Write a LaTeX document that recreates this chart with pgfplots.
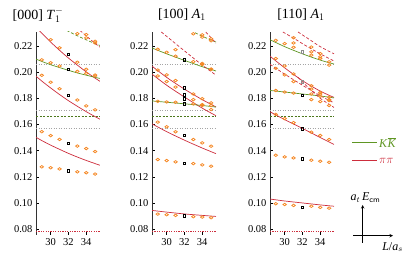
\documentclass[border=0pt]{standalone}
\usepackage{fontspec}
\setmainfont{Liberation Serif}
\usepackage{pgfplots}
\pgfplotsset{compat=1.18}
\definecolor{cred}{RGB}{205,45,60}
\definecolor{cgreen}{RGB}{95,150,35}
\definecolor{corange}{RGB}{245,135,35}
\definecolor{cgray}{RGB}{165,165,165}
\pgfplotsset{
  panel/.style={scale only axis, width=64pt, height=203pt,
    xmin=28.35, xmax=35.55, ymin=0.0755, ymax=0.2307,
    axis x line*=bottom, axis y line*=left,
    x axis line style={draw=none},
    y axis line style={line width=0.9pt, draw=black!80},
    xtick={30,32,34}, ytick={0.08,0.1,0.12,0.14,0.16,0.18,0.2,0.22},
    tick align=inside, major tick length=3pt,
    tick style={black, line width=0.5pt},
    /pgf/number format/assume math mode=true,
    ticklabel style={font=\fontsize{10.5}{12}\selectfont},
    yticklabel style={/pgf/number format/.cd, fixed, fixed zerofill, precision=2, /tikz/.cd},
  },
  curve/.style={no marks, smooth, line width=0.7pt},
  dcurve/.style={no marks, smooth, line width=0.7pt, dash pattern=on 3pt off 2pt},
  hl/.style={no marks, cgray, line width=0.6pt, dash pattern=on 1pt off 1.5pt},
  pts/.style={only marks, mark=o, mark size=1.3pt, mark options={xscale=1.35, line width=0.75pt, draw=corange}},
  blk/.style={only marks, mark=square, mark size=1.25pt, mark options={line width=0.6pt, draw=black}},
  gblk/.style={only marks, mark=square, mark size=1.25pt, mark options={line width=0.6pt, draw=black!45}},
}
\newcommand{\thresholds}{%
  \addplot[hl] coordinates {(28.35,0.157) (35.55,0.157)};
  \addplot[hl] coordinates {(28.35,0.171) (35.55,0.171)};
  \addplot[hl] coordinates {(28.35,0.2057) (35.55,0.2057)};
  \addplot[no marks, cgreen!80!black, line width=0.7pt, dash pattern=on 2pt off 1.5pt] coordinates {(28.35,0.1663) (35.55,0.1663)};
  \addplot[no marks, cred, line width=0.8pt, dash pattern=on 1.2pt off 1.2pt] coordinates {(28.35,0.0786) (35.55,0.0786)};
}
\begin{document}
\begin{tikzpicture}
\useasboundingbox (0,0) rectangle (411pt,256pt);

% ---------------- panel 1 ----------------
\begin{axis}[panel, at={(36pt,21pt)}, anchor=south west]
\thresholds
\addplot[curve, cred] coordinates {(28.35,.1502)(29,.1477)(30,.1442)(31,.1410)(32,.1379)(33,.1351)(34,.1325)(35,.1301)(35.55,.1288)};
\addplot[curve, cred] coordinates {(28.35,.1969)(29,.1932)(30,.1879)(31,.1829)(32,.1782)(33,.1739)(34,.1698)(35,.1660)(35.55,.1640)};
\addplot[curve, cred] coordinates {(28.6,.2326)(29,.2298)(30,.2230)(31,.2167)(32,.2108)(33,.2054)(34,.2002)(35,.1954)(35.55,.1930)};
\addplot[curve, cgreen] coordinates {(28.35,.2100)(29,.2082)(30,.2057)(31,.2035)(32,.2014)(33,.1994)(34,.1977)(35,.1960)(35.55,.1952)};
\addplot[dcurve, cgreen] coordinates {(31.8,.2319)(32,.2312)(33,.2278)(34,.2247)(35,.2218)(35.55,.2204)};
\addplot[dcurve, cred] coordinates {(33.3,.2319)(34,.2277)(35,.2220)(35.55,.2191)};
\addplot[pts] coordinates {(29,.1276)(30,.1269)(31,.1260)(33,.1238)(34,.1231)(35,.1221)};
\addplot[pts] coordinates {(29,.1545)(30,.1515)(31,.1486)(33,.1435)(34,.1416)(35,.1393)};
\addplot[pts] coordinates {(29,.1976)(30,.1923)(31,.1873)(33,.1787)(34,.1742)(35,.1712)};
\addplot[pts] coordinates {(29,.2094)(30,.2072)(31,.2047)(33,.2006)(34,.1991)(35,.1971)};
\addplot[pts] coordinates {(30,.2248)(31,.2186)(33,.2076)(34,.2022)(35,.1978)};
\addplot[pts] coordinates {(33,.2294)(34,.2262)(35,.2223)(34,.2287)(35,.2236)};
\addplot[blk] coordinates {(32,.1245)(32,.1455)(32,.1823)(32,.2021)(32,.2135)};
\end{axis}

% ---------------- panel 2 ----------------
\begin{axis}[panel, at={(152pt,21pt)}, anchor=south west]
\thresholds
\addplot[curve, cred] coordinates {(28.35,.0943)(30,.0930)(32,.0916)(34,.0905)(35.55,.0897)};
\addplot[curve, cred] coordinates {(28.35,.1605)(30,.1545)(32,.1480)(34,.1420)(35.55,.1377)};
\addplot[curve, cred] coordinates {(28.35,.1985)(30,.1900)(32,.1810)(34,.1725)(35.55,.1667)};
\addplot[curve, cred] coordinates {(28.35,.2046)(30,.1960)(32,.1870)(34,.1790)(35.55,.1734)};
\addplot[curve, cgreen] coordinates {(28.35,.1780)(30,.1770)(32,.1758)(34,.1745)(35.55,.1733)};
\addplot[curve, cgreen] coordinates {(28.35,.2185)(30,.2140)(32,.2090)(34,.2042)(35.55,.2009)};
\addplot[dcurve, cred] coordinates {(29.4,.2307)(31,.2218)(33,.2108)(34,.2054)(35.55,.1977)};
\addplot[dcurve, cgreen] coordinates {(33.2,.2301)(34,.2275)(35,.2245)(35.55,.2230)};
\addplot[dcurve, cred] coordinates {(34.4,.2307)(35.55,.2222)};
\addplot[pts] coordinates {(29,.0915)(30,.0910)(31,.0905)(33,.0895)(34,.0892)(35,.0887)};
\addplot[pts] coordinates {(29,.1332)(30,.1324)(31,.1314)(33,.1301)(34,.1291)(35,.1281)};
\addplot[pts] coordinates {(29,.1618)(30,.1582)(31,.1544)(33,.1485)(34,.1459)(35,.1434)};
\addplot[pts] coordinates {(29,.1777)(30,.1772)(31,.1770)(33,.1757)(34,.1752)(35,.1745)};
\addplot[pts] coordinates {(29,.1971)(30,.1928)(31,.1886)(33,.1790)(34,.1745)(35,.1714)};
\addplot[pts] coordinates {(29,.2016)(30,.1979)(31,.1936)(33,.1833)(34,.1797)(35,.1765)};
\addplot[pts] coordinates {(29,.2175)(30,.2152)(31,.2122)(33,.2080)(34,.2067)(35,.2024)};
\addplot[pts] coordinates {(31,.2172)(34,.2058)(35,.2020)};
\addplot[pts] coordinates {(33,.2293)(34,.2268)(35,.2255)(34,.2285)(35,.2240)};
\addplot[blk] coordinates {(32,.0902)(32,.1304)(32,.1516)(32,.1759)(32,.1797)(32,.1825)(32,.1881)(32,.2093)};
\end{axis}

% ---------------- panel 3 ----------------
\begin{axis}[panel, at={(270pt,21pt)}, anchor=south west]
\thresholds
\addplot[curve, cred] coordinates {(28.35,.1030)(30,.1015)(32,.1000)(34,.0985)(35.55,.0975)};
\addplot[curve, cred] coordinates {(28.35,.1697)(30,.1637)(32,.1570)(34,.1500)(35.55,.1447)};
\addplot[curve, cred] coordinates {(28.35,.2122)(30,.2033)(32,.1935)(34,.1855)(35.55,.1807)};
\addplot[curve, cgreen] coordinates {(28.35,.1860)(30,.1848)(32,.1833)(34,.1818)(35.55,.1803)};
\addplot[curve, cgreen] coordinates {(28.35,.2248)(30,.2195)(32,.2140)(34,.2092)(35.55,.2062)};
\addplot[dcurve, cred] coordinates {(29.8,.2307)(31,.2260)(32,.2218)(33,.2178)(34,.2140)(35.55,.2085)};
\addplot[dcurve, cred] coordinates {(31.5,.2307)(33,.2240)(34,.2195)(35.55,.2140)};
\addplot[dcurve, cred] coordinates {(28.35,.2060)(30,.1985)(32,.1900)(34,.1820)(35.55,.1765)};
\addplot[dcurve, cred] coordinates {(31.5,.1960)(33,.1860)(34,.1800)(35.55,.1730)};
\addplot[pts] coordinates {(29,.0994)(30,.0988)(31,.0981)(33,.0975)(34,.0966)(35,.0960)};
\addplot[pts] coordinates {(29,.1365)(30,.1352)(31,.1344)(33,.1327)(34,.1319)(35,.1311)};
\addplot[pts] coordinates {(29,.1677)(30,.1645)(31,.1614)(33,.1541)(34,.1516)(35,.1485)};
\addplot[pts] coordinates {(29,.1860)(30,.1848)(31,.1840)(33,.1833)(34,.1815)(35,.1808)};
\addplot[pts] coordinates {(29,.2104)(30,.2047)(31,.1986)(33,.1896)(34,.1845)(35,.1790)};
\addplot[pts] coordinates {(29,.2243)(30,.2218)(31,.2190)(33,.2130)(34,.2104)(35,.2079)};
\addplot[pts] coordinates {(29,.2029)(30,.1979)(31,.1928)(33,.1870)(34,.1833)(35,.1782)};
\addplot[pts] coordinates {(33,.1790)(34,.1775)(35,.1745)};
\addplot[pts] coordinates {(31,.2263)(31,.2223)(33,.2192)(33,.2155)(34,.2142)(34,.2117)(35,.2054)};
\addplot[blk] coordinates {(32,.0968)(32,.1337)(32,.1567)(32,.1823)};
\addplot[gblk] coordinates {(32,.1928)(32,.2155)};
\end{axis}

% ---------------- titles ----------------
\node[font=\fontsize{14}{16}\selectfont] at (38pt,241pt) {[000] \textit{T}$_1^-$};
\node[font=\fontsize{14}{16}\selectfont] at (182pt,241pt) {[100] \textit{A}$_1$};
\node[font=\fontsize{14}{16}\selectfont] at (301pt,241pt) {[110] \textit{A}$_1$};

% ---------------- legend ----------------
\draw[cgreen, line width=0.8pt] (352pt,113.3pt) -- (377pt,113.3pt);
\node[anchor=west, text=cgreen, inner sep=1pt, font=\fontsize{12}{14}\selectfont] at (378pt,113.3pt) {\textit{K}$\overline{\mbox{\textit{K}}}$};
\draw[cred, line width=0.8pt] (352pt,95.3pt) -- (377pt,95.3pt);
\node[anchor=west, text=cred, inner sep=1pt, font=\fontsize{12}{14}\selectfont] at (378pt,95.3pt) {$\pi\pi$};

% ---------------- axis arrows ----------------
\draw[-stealth, line width=0.6pt] (362.7pt,13pt) -- (362.7pt,51pt);
\draw[-stealth, line width=0.6pt] (353pt,20.3pt) -- (393pt,20.3pt);
\node[font=\fontsize{12}{14}\selectfont] at (365.5pt,58pt) {\textit{a}$_t$\,\textit{E}$_{\mathsf{cm}}$};
\node[font=\fontsize{12}{14}\selectfont] at (392.5pt,9pt) {\textit{L}/\textit{a}$_s$};
\end{tikzpicture}
\end{document}
